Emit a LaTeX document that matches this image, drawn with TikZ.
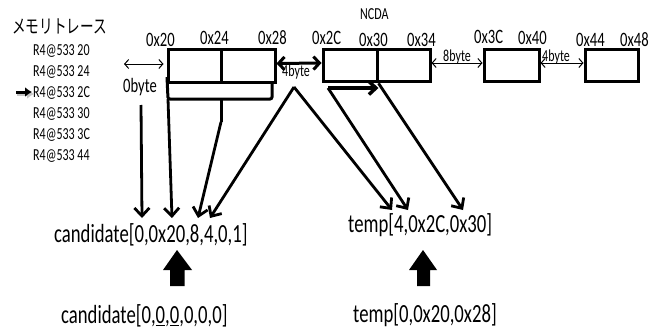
\documentclass[tikz,border=0pt]{standalone}
\usepackage{fontspec}
\setmainfont{Carlito}
\newfontfamily\jpfont{Noto Sans CJK JP}
\usepackage{graphicx}
\usetikzlibrary{arrows.meta}
\newcommand\vsc[1]{\scalebox{1}[1.4]{#1}}
\begin{document}
\begin{tikzpicture}[x=1pt,y=-1pt,
  box/.style={draw, line width=3pt, minimum width=#1, minimum height=32.5pt, inner sep=0pt},
  lbl/.style={anchor=base west, inner sep=0pt, font=\fontsize{14.6}{16}\selectfont},
  sml/.style={anchor=base west, inner sep=0pt, font=\fontsize{12}{14}\selectfont},
  big/.style={anchor=base west, inner sep=0pt, font=\fontsize{18.7}{22}\selectfont},
  thinarr/.style={line width=1pt, {Straight Barb[length=4pt,width=9pt]}-{Straight Barb[length=4pt,width=9pt]}},
  thickarr/.style={line width=3pt, {Straight Barb[length=6pt,width=13pt]}-{Straight Barb[length=6pt,width=13pt]}},
  ptr/.style={line width=2.8pt, -{Straight Barb[length=8pt,width=15pt]}},
  blockarr/.style={fill=black}
]
\useasboundingbox (0,0) rectangle (663,329);

% title and trace
\node[anchor=base west, inner sep=0pt, font=\jpfont\fontsize{13.6}{16}\selectfont] (title) at (12,34) {\vsc{メモリトレース}};
\node[sml] (r1) at (33,56) {\vsc{R4@533 20}};
\node[sml] (r2) at (33,76.8) {\vsc{R4@533 24}};
\node[sml] (r3) at (33,97.6) {\vsc{R4@533 2C}};
\node[sml] (r4) at (33,118.4) {\vsc{R4@533 30}};
\node[sml] (r5) at (33,139.2) {\vsc{R4@533 3C}};
\node[sml] (r6) at (33,160) {\vsc{R4@533 44}};
\coordinate (pa) at (16,92);
\draw[gray!45, line width=3pt, -{Latex[length=7pt,width=10pt]}] ([xshift=1pt,yshift=-2pt]pa) -- ([xshift=1pt,yshift=-2pt]r3.west |- pa);
\draw[line width=3pt, -{Latex[length=7pt,width=10pt]}] (pa) -- ([xshift=-1pt]r3.west |- pa);

% boxes
\node[box=53pt] (b1a) at (194.5,66) {};
\node[box=54pt] (b1b) at (248,66) {};
\node[box=54pt] (b2a) at (350,65.5) {};
\node[box=53pt] (b2b) at (403.5,65.5) {};
\node[box=55pt] (b3) at (511.5,65.5) {};
\node[box=53pt] (b4) at (611.5,65.5) {};

% address labels
\node[lbl] (a20) at (146,46) {\vsc{0x20}};
\node[lbl] (a24) at (200,45) {\vsc{0x24}};
\node[lbl] (a28) at (258,45) {\vsc{0x28}};
\node[lbl] (a2c) at (312,45) {\vsc{0x2C}};
\node[lbl] (a30) at (359,46) {\vsc{0x30}};
\node[lbl] (a34) at (407,46) {\vsc{0x34}};
\node[lbl] (a3c) at (474,44) {\vsc{0x3C}};
\node[lbl] (a40) at (518,44.5) {\vsc{0x40}};
\node[lbl] (a44) at (576,47) {\vsc{0x44}};
\node[lbl] (a48) at (620,47) {\vsc{0x48}};
\node[sml] (ncda) at (360,20) {\vsc{NCDA}};

% byte gaps
\coordinate (zl) at (124,64);
\draw[thinarr] (zl) -- ([xshift=-3pt]b1a.west |- zl);
\node[lbl] (zbyte) at (123,92) {\vsc{0byte}};
\draw[thickarr] ([yshift=2.5pt]b1b.east) -- ([yshift=2.5pt]b2a.west);
\node[sml] (fb1) at (282,76) {\vsc{4byte}};
\draw[thinarr] ([yshift=2.5pt]b2b.east) -- ([yshift=2.5pt]b3.west);
\node[sml] (eb) at (443,62) {\vsc{8byte}};
\draw[thinarr] ([yshift=2.5pt]b3.east) -- ([yshift=2.5pt]b4.west);
\node[sml] (fb2) at (542,62) {\vsc{4byte}};

% bracket under first box
\coordinate (bl) at (168,99);
\coordinate (bm) at (221,99);
\coordinate (bk) at (221,122);
\draw[line width=3pt, rounded corners=2pt] (167,77) -- (bl) -- (272,99) -- (272,83);
\draw[line width=3pt] (bm) -- (bk);

% texts
\node[big] (cand) at (54,242) {\vsc{candidate[0,0x20,8,4,0,1]}};
\node[big] (temp) at (348,232) {\vsc{temp[4,0x2C,0x30]}};
\node[big] (cand0) at (61,323) {\vsc{candidate[0,\underline{0},\underline{0},0,0,0]}};
\node[big] (temp0) at (353,322) {\vsc{temp[0,0x20,0x28]}};

% arrow targets
\coordinate (c0) at (142,218);
\coordinate (c1) at (172,218);
\coordinate (c2) at (198,218);
\coordinate (c3) at (210,218);
\coordinate (t0) at (392,210);
\coordinate (t1) at (408,210);
\coordinate (t2) at (463,210);
\coordinate (zb) at (141,105);
\coordinate (apex) at (294,87);
\coordinate (hk) at (328,88);

% arrows to candidate
\draw[ptr] (zb) -- (c0);
\draw[ptr] (bl) -- (c1);
\draw[ptr] (bk) -- (c2);
\draw[ptr] (apex) -- (c3);

% arrows to temp
\draw[ptr] (apex) -- (t0);
\draw[ptr] (hk) -- (t1);
\draw[ptr] (b2a.south east) -- (t2);
\draw[line width=3.5pt, -{Straight Barb[length=7pt,width=13pt]}] (hk) -- (b2a.south east |- hk);

% block arrows
\fill[blockarr] (177,250) -- (192,270) -- (184.5,270) -- (184.5,286) -- (170,286) -- (170,270) -- (163,270) -- cycle;
\fill[blockarr] (423,250) -- (437,270) -- (430,270) -- (430,286) -- (417,286) -- (417,270) -- (409,270) -- cycle;
\end{tikzpicture}
\end{document}
